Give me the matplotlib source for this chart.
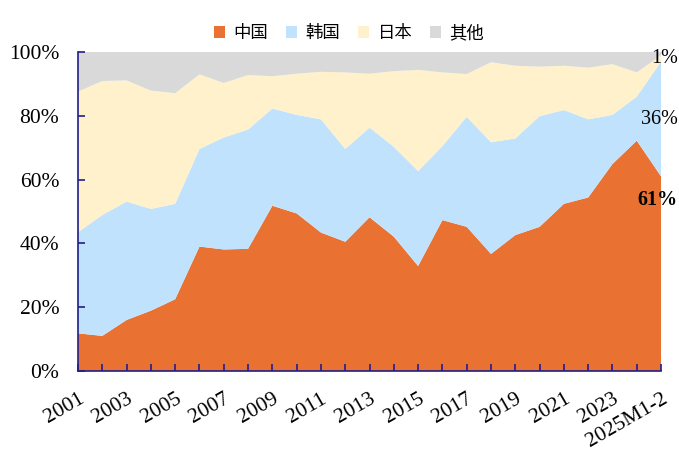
import matplotlib
matplotlib.use("Agg")
import matplotlib.pyplot as plt
from matplotlib.patches import Patch
import numpy as np

years = [str(y) for y in range(2001, 2025)] + ["2025M1-2"]
china = [11.8, 11.0, 16.0, 18.9, 22.5, 39.0, 38.1, 38.3, 51.8, 49.4, 43.4, 40.5, 48.2,
         42.1, 32.9, 47.3, 45.2, 36.7, 42.6, 45.2, 52.4, 54.4, 64.9, 72.2, 61.0]
china_korea_top = [43.5, 48.9, 53.1, 50.8, 52.4, 69.6, 73.2, 75.7, 82.3, 80.3, 78.9, 69.6, 76.3,
                   70.3, 62.7, 70.5, 79.7, 71.7, 72.9, 79.9, 81.8, 78.9, 80.3, 86.0, 97.0]
japan_top = [87.6, 90.9, 91.1, 87.9, 87.1, 93.0, 90.3, 92.8, 92.4, 93.2, 93.8, 93.6, 93.2,
             94.0, 94.4, 93.6, 93.1, 96.8, 95.7, 95.4, 95.7, 95.1, 96.2, 93.6, 99.0]
korea = [b - a for a, b in zip(china, china_korea_top)]
japan = [b - a for a, b in zip(china_korea_top, japan_top)]
other = [100 - t for t in japan_top]
series_names = ["中国", "韩国", "日本", "其他"]
colors = ["#E97132", "#C0E2FC", "#FFF1CC", "#D9D9D9"]
end_labels = ["61%", "36%", "1%"]

plt.rcParams['font.family'] = ['Liberation Serif', 'Noto Sans CJK SC']

fig = plt.figure(figsize=(6.79, 4.5), dpi=100)
ax = fig.add_axes([0.1149, 0.1756, 0.8587, 0.7088])
x = np.arange(len(years))
ax.stackplot(x, china, korea, japan, other, colors=colors, linewidth=0)
ax.set_xlim(0, len(years) - 1)
ax.set_ylim(0, 100)

navy = "#1F1F8A"
for s in ["top", "right"]:
    ax.spines[s].set_visible(False)
for s in ["left", "bottom"]:
    ax.spines[s].set_color(navy)
    ax.spines[s].set_linewidth(1.2)

ax.set_yticks([0, 20, 40, 60, 80, 100])
ax.set_yticklabels([f"{v}%" for v in [0, 20, 40, 60, 80, 100]], fontsize=15.5)
ax.tick_params(axis='y', direction='in', length=5, color=navy, width=1.2, pad=13.5)
ax.set_xticks(x, minor=True)
ax.set_xticks(x[::2])
ax.set_xticklabels(years[::2], rotation=30, ha='right', va='top', rotation_mode='anchor',
                   fontsize=15.5)
ax.tick_params(axis='x', which='both', direction='in', length=5, color=navy, width=1.2, pad=13.5)

# end labels (right-aligned near the right edge)
ax.annotate(end_labels[2], xy=(1.0, 98.1), xycoords=('figure fraction', 'data'),
            xytext=(-1, 0), textcoords='offset points', fontsize=14.5, ha='right', va='center')
ax.annotate(end_labels[1], xy=(1.0, 79.0), xycoords=('figure fraction', 'data'),
            xytext=(-1, 0), textcoords='offset points', fontsize=14.5, ha='right', va='center')
ax.annotate(end_labels[0], xy=(1.0, 53.6), xycoords=('figure fraction', 'data'),
            xytext=(-1, 0), textcoords='offset points', fontsize=14.5, ha='right', va='center',
            fontweight='bold')

handles = [Patch(facecolor=c, edgecolor='none') for c in colors]
fig.legend(handles, series_names, loc='center', bbox_to_anchor=(0.514, 0.927), ncol=4,
           frameon=False, handlelength=0.65, handleheight=0.65, handletextpad=0.5, columnspacing=1.0,
           prop={'family': ['Noto Sans CJK SC'], 'size': 12.5})

fig.savefig("out.png", dpi=100)
